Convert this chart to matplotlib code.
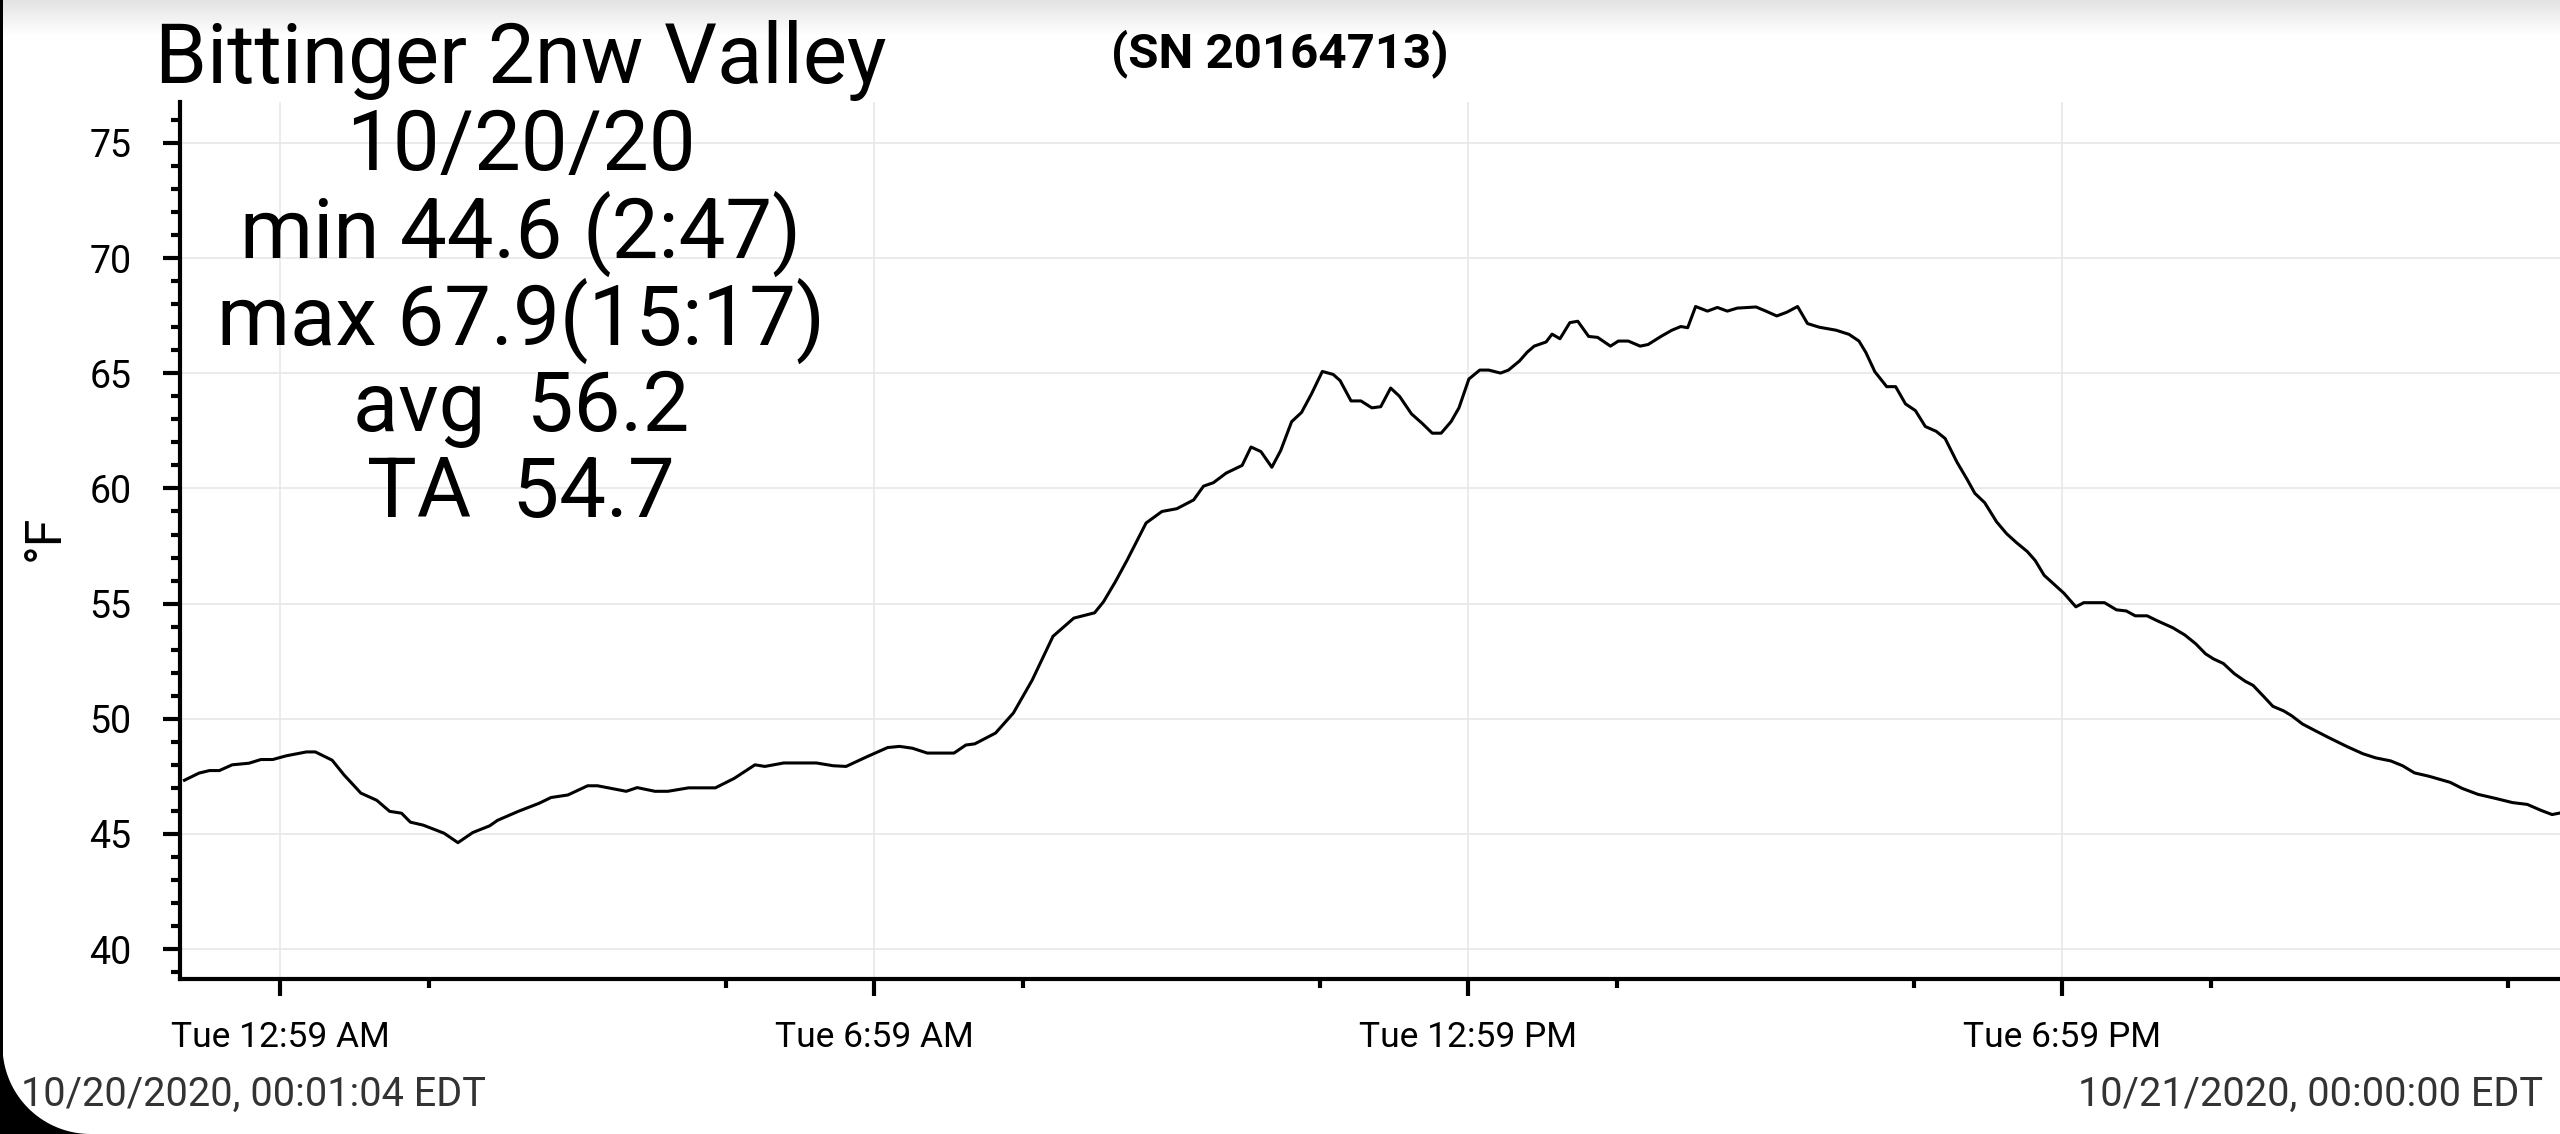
import numpy as np
import matplotlib
matplotlib.use("Agg")
import matplotlib.pyplot as plt
from matplotlib.patches import Polygon, Rectangle
from matplotlib.ticker import FixedLocator

plt.rcParams['font.family'] = ['Roboto', 'DejaVu Sans']

# ---------------- data ----------------
hours = [0.018, 0.165, 0.27, 0.37, 0.50, 0.67, 0.79, 0.91, 1.045, 1.25, 1.34, 1.51, 1.63,
         1.80, 1.96, 2.09, 2.21, 2.30, 2.43, 2.64, 2.78, 2.93, 3.10, 3.18, 3.39, 3.60,
         3.72, 3.89, 4.09, 4.19, 4.35, 4.48, 4.59, 4.77, 4.90, 5.11, 5.38, 5.57, 5.78,
         5.88, 6.07, 6.40, 6.57, 6.70, 6.91, 7.12, 7.24, 7.37, 7.52, 7.79, 7.91, 8.00,
         8.21, 8.39, 8.58, 8.79, 9.00, 9.21, 9.30, 9.42, 9.54, 9.73, 9.89, 10.04, 10.21,
         10.31, 10.41, 10.54, 10.70, 10.79, 10.89, 11.00, 11.09, 11.20, 11.30, 11.40,
         11.51, 11.62, 11.69, 11.80, 11.90, 12.01, 12.10, 12.20, 12.29, 12.41, 12.52,
         12.62, 12.71, 12.81, 12.89, 12.99, 13.10, 13.19, 13.31, 13.39, 13.50, 13.58,
         13.65, 13.77, 13.83, 13.91, 14.01, 14.09, 14.20, 14.29, 14.42, 14.50, 14.60,
         14.72, 14.80, 14.93, 15.04, 15.13, 15.20, 15.28, 15.40, 15.50, 15.60, 15.70,
         15.89, 15.99, 16.10, 16.20, 16.31, 16.41, 16.53, 16.70, 16.83, 16.93, 17.00,
         17.09, 17.21, 17.30, 17.40, 17.50, 17.60, 17.71, 17.80, 17.92, 18.02, 18.10,
         18.20, 18.32, 18.42, 18.52, 18.63, 18.71, 18.80, 18.90, 19.00, 19.12, 19.20,
         19.41, 19.53, 19.63, 19.72, 19.84, 19.94, 20.10, 20.22, 20.33, 20.43, 20.51,
         20.61, 20.72, 20.83, 20.91, 21.01, 21.11, 21.22, 21.30, 21.41, 21.53, 21.68,
         21.86, 22.02, 22.15, 22.30, 22.42, 22.54, 22.69, 22.90, 23.02, 23.18, 23.36,
         23.53, 23.68, 23.82, 23.93, 24.00]
temps_f = [47.33, 47.64, 47.75, 47.75, 48.00, 48.07, 48.23, 48.23, 48.39, 48.56, 48.56,
           48.20, 47.56, 46.77, 46.46, 45.98, 45.90, 45.51, 45.38, 45.03, 44.62, 45.06,
           45.35, 45.59, 45.98, 46.33, 46.58, 46.69, 47.09, 47.09, 46.96, 46.85, 47.01,
           46.85, 46.85, 47.00, 47.00, 47.41, 48.00, 47.93, 48.08, 48.08, 47.96, 47.93,
           48.35, 48.75, 48.80, 48.72, 48.51, 48.51, 48.86, 48.91, 49.38, 50.25, 51.68,
           53.58, 54.37, 54.60, 55.08, 55.95, 56.90, 58.50, 59.00, 59.12, 59.50, 60.10,
           60.25, 60.67, 61.00, 61.80, 61.60, 60.92, 61.65, 62.90, 63.30, 64.10, 65.08,
           64.95, 64.68, 63.80, 63.80, 63.50, 63.55, 64.36, 64.00, 63.24, 62.82, 62.40,
           62.40, 62.90, 63.50, 64.75, 65.14, 65.14, 65.01, 65.14, 65.53, 65.92, 66.18,
           66.36, 66.70, 66.50, 67.20, 67.26, 66.60, 66.56, 66.18, 66.40, 66.40, 66.18,
           66.25, 66.60, 66.87, 67.03, 66.98, 67.90, 67.70, 67.86, 67.70, 67.83, 67.88,
           67.70, 67.49, 67.65, 67.90, 67.16, 67.00, 66.87, 66.69, 66.40, 65.90, 65.07,
           64.42, 64.42, 63.67, 63.38, 62.69, 62.48, 62.17, 61.14, 60.41, 59.79, 59.38,
           58.55, 58.04, 57.65, 57.26, 56.87, 56.23, 55.84, 55.45, 54.86, 55.04, 55.04,
           54.73, 54.68, 54.47, 54.47, 54.26, 53.95, 53.64, 53.26, 52.82, 52.60, 52.40,
           51.96, 51.63, 51.45, 51.00, 50.54, 50.34, 50.13, 49.77, 49.50, 49.17, 48.79,
           48.48, 48.30, 48.17, 47.96, 47.65, 47.50, 47.24, 46.98, 46.72, 46.54, 46.36,
           46.28, 46.02, 45.84, 45.90]

y_ticks = [40, 45, 50, 55, 60, 65, 70, 75]
x_tick_hours = [0.9833, 6.9833, 12.9833, 18.9833]
x_tick_labels = ["Tue 12:59 AM", "Tue 6:59 AM", "Tue 12:59 PM", "Tue 6:59 PM"]
x_minor_hours = [2.4833, 5.4833, 8.4833, 11.4833, 14.4833, 17.4833, 20.4833, 23.4833]

title = "Bittinger 2nw Valley"
serial = "(SN 20164713)"
stat_lines = ["10/20/20", "min 44.6 (2:47)", "max 67.9(15:17)", "avg  56.2", "TA  54.7"]
start_label = "10/20/2020, 00:01:04 EDT"
end_label = "10/21/2020, 00:00:00 EDT"
y_label = "°F"

# ---------------- figure ----------------
W, H = 2560, 1134
fig = plt.figure(figsize=(W / 100, H / 100), dpi=100, facecolor='white')

# background decorations (screenshot frame)
bg = fig.add_axes([0, 0, 1, 1], zorder=-5)
bg.set_xlim(0, W)
bg.set_ylim(H, 0)
bg.axis('off')
grad = np.linspace(0.89, 1.0, 64).reshape(-1, 1)
bg.imshow(grad, cmap='gray', vmin=0, vmax=1, extent=[0, W, 36, 0], aspect='auto',
          interpolation='bilinear')
bg.add_patch(Rectangle((0, 0), 2.5, H, color='black', lw=0))
r = 88
ang = np.linspace(np.pi, np.pi / 2, 40)
cx, cy = r + 2.5, H - r
arc = np.column_stack([cx + r * np.cos(ang), cy + r * np.sin(ang)])
poly = np.vstack([[0, H - r], arc, [0, H]])
bg.add_patch(Polygon(poly, closed=True, color='black', lw=0))


def fx(px):
    return px / W


def fy(py):
    return 1 - py / H


ax_left, ax_right, ax_top, ax_bottom = 180, 2560, 102, 979
ax = fig.add_axes([fx(ax_left), fy(ax_bottom), fx(ax_right - ax_left),
                   (ax_bottom - ax_top) / H])
ax.set_facecolor('none')
ax.plot(hours, temps_f, color='black', lw=2.2, solid_joinstyle='round', zorder=3)
ax.set_xlim(-0.027, 24.01)
ax.set_ylim(38.7, 76.78)

ax.set_yticks(y_ticks)
ax.yaxis.set_minor_locator(FixedLocator(list(range(39, 77))))
ax.set_xticks(x_tick_hours)
ax.set_xticklabels(x_tick_labels)
ax.xaxis.set_minor_locator(FixedLocator(x_minor_hours))

for s in ['top', 'right']:
    ax.spines[s].set_visible(False)
for s in ['left', 'bottom']:
    ax.spines[s].set_linewidth(3.0)
    ax.spines[s].set_color('black')

ax.tick_params(axis='both', which='major', length=12, width=3.0, color='black',
               labelcolor='black')
ax.tick_params(axis='both', which='minor', length=6.5, width=3.0, color='black')
ax.tick_params(axis='y', which='major', pad=23, labelsize=27)
ax.tick_params(axis='x', which='major', pad=18, labelsize=25.5)

ax.grid(True, which='major', color='#e6e6e6', lw=1.1, zorder=0)
ax.set_axisbelow(True)

# texts
cxp = 521
fig.text(fx(cxp), fy(83), title, ha='center', va='baseline', fontsize=60, color='black')
for py, line in zip([170, 258, 345, 431, 517], stat_lines):
    fig.text(fx(cxp), fy(py), line, ha='center', va='baseline', fontsize=60, color='black')
fig.text(fx(1280), fy(67), serial, ha='center', va='baseline', fontsize=35.5,
         fontweight='bold', color='black')
fig.text(fx(21), fy(1106), start_label, ha='left', va='baseline', fontsize=28.5,
         color='#333333')
fig.text(fx(2543), fy(1106), end_label, ha='right', va='baseline', fontsize=28.5,
         color='#333333')
fig.text(fx(59), fy(538), y_label, rotation=90, ha='center', va='baseline', fontsize=36,
         color='black', rotation_mode='anchor')

fig.savefig('out.png', dpi=100, facecolor='white')
